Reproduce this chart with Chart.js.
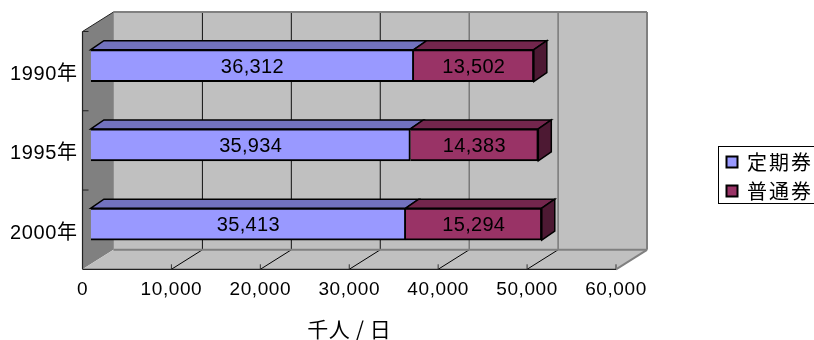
<!DOCTYPE html>
<html>
<head>
<meta charset="utf-8">
<style>
html,body{margin:0;padding:0;background:#fff}
#wrap{position:relative;width:814px;height:340px;overflow:hidden}
canvas{display:block}
</style>
<script src="https://cdn.jsdelivr.net/npm/chart.js@4"></script>
</head>
<body>
<div id="wrap"><canvas id="c" width="814" height="340"></canvas></div>
<script>
const categories = ['1990年', '1995年', '2000年'];
const teikiken = [36312, 35934, 35413];
const futsuken = [13502, 14383, 15294];
const xTicks = [0, 10000, 20000, 30000, 40000, 50000, 60000];

const LATIN = '"Liberation Sans","Noto Sans CJK JP",sans-serif';
const CJK = '"Noto Sans CJK JP","Liberation Sans",sans-serif';

// Box depth of the plot and of the bars, in pixels
const WALL = {dx: 31, dy: -19.5};
const BAR_SHIFT = {dx: 8.4, dy: -5.5};
const BAR_DEPTH = {dx: 13, dy: -9};

const fmt = v => v.toLocaleString('en-US');

function poly(ctx, pts, fill, stroke, lw) {
  ctx.beginPath();
  pts.forEach((p, i) => i ? ctx.lineTo(p[0], p[1]) : ctx.moveTo(p[0], p[1]));
  ctx.closePath();
  if (fill) { ctx.fillStyle = fill; ctx.fill(); }
  if (stroke) { ctx.strokeStyle = stroke; ctx.lineWidth = lw; ctx.stroke(); }
}
function seg(ctx, x1, y1, x2, y2, color, lw) {
  ctx.beginPath();
  ctx.moveTo(x1, y1);
  ctx.lineTo(x2, y2);
  ctx.strokeStyle = color;
  ctx.lineWidth = lw;
  ctx.stroke();
}

// Back wall, side wall, floor, gridlines and axis ticks
const plotBox = {
  id: 'plotBox',
  beforeDraw(chart) {
    // Axis text is set slightly wide
    chart.ctx.letterSpacing = '0.6px';
  },
  beforeDatasetsDraw(chart) {
    const {ctx, chartArea: a, scales: {x, y}} = chart;
    const {dx, dy} = WALL;
    ctx.save();
    poly(ctx, [[a.left + dx, a.top + dy], [a.right + dx, a.top + dy], [a.right + dx, a.bottom + dy], [a.left + dx, a.bottom + dy]], '#c0c0c0');
    poly(ctx, [[a.left, a.top], [a.left + dx, a.top + dy], [a.left + dx, a.bottom + dy], [a.left, a.bottom]], '#808080');
    poly(ctx, [[a.left, a.bottom], [a.right, a.bottom], [a.right + dx, a.bottom + dy], [a.left + dx, a.bottom + dy]], '#c0c0c0');

    xTicks.slice(1, -1).forEach(v => {
      const px = x.getPixelForValue(v);
      const color = v >= 40000 ? '#555' : '#111';
      seg(ctx, px + dx, a.top + dy, px + dx, a.bottom + dy, color, 1);
      seg(ctx, px, a.bottom, px + dx, a.bottom + dy, '#000', 1);
    });
    xTicks.slice(1).forEach(v => {
      const px = x.getPixelForValue(v);
      seg(ctx, px, a.bottom - 5, px, a.bottom, '#333', 1);
    });

    seg(ctx, a.left + dx, a.top + dy, a.right + dx, a.top + dy, '#808080', 2);
    seg(ctx, a.right + dx, a.top + dy, a.right + dx, a.bottom + dy, '#808080', 2);
    seg(ctx, a.left + dx, a.bottom + dy, a.right + dx, a.bottom + dy, '#808080', 2);
    seg(ctx, a.right, a.bottom, a.right + dx, a.bottom + dy, '#808080', 2);
    seg(ctx, a.left + dx, a.top + dy, a.left + dx, a.bottom + dy, '#909090', 1);

    seg(ctx, a.left, a.top, a.left + dx, a.top + dy, '#222', 1);
    seg(ctx, a.left, a.top, a.left, a.bottom, '#222', 1.2);
    seg(ctx, a.left, a.bottom, a.right, a.bottom, '#222', 1.2);
    const step = (y.getPixelForValue(1) - y.getPixelForValue(0)) / 2;
    [a.top, y.getPixelForValue(0) + step, y.getPixelForValue(1) + step].forEach(py => {
      seg(ctx, a.left, py, a.left + 6, py, '#222', 1);
    });
    ctx.restore();

    // Bars sit a little behind the front edge of the floor
    ctx.save();
    ctx.translate(BAR_SHIFT.dx, BAR_SHIFT.dy);
    const shades = [{top: '#7272bf'}, {top: '#73264d', side: '#4d1933'}];
    const {dx: bx, dy: by} = BAR_DEPTH;
    chart.data.datasets.forEach((ds, i) => {
      chart.getDatasetMeta(i).data.forEach(bar => {
        const h = bar.height / 2;
        const l = bar.base, r = bar.x, t = bar.y - h, b = bar.y + h;
        poly(ctx, [[l, t], [l + bx, t + by], [r + bx, t + by], [r, t]], shades[i].top, '#000', 1.5);
        if (shades[i].side) {
          poly(ctx, [[r, t], [r + bx, t + by], [r + bx, b + by], [r, b]], shades[i].side, '#000', 1.5);
        }
      });
    });
  },
  afterDatasetsDraw(chart) {
    const {ctx} = chart;
    ctx.font = '20px ' + LATIN;
    ctx.letterSpacing = '0.3px';
    ctx.fillStyle = '#000';
    ctx.textAlign = 'center';
    ctx.textBaseline = 'middle';
    chart.data.datasets.forEach((ds, i) => {
      chart.getDatasetMeta(i).data.forEach((bar, j) => {
        ctx.fillText(fmt(ds.data[j]), (bar.base + bar.x) / 2, bar.y + 1.5);
      });
    });
    ctx.restore();
  }
};

// Boxed legend on the right, running off the edge of the page
const boxedLegend = {
  id: 'boxedLegend',
  afterDraw(chart) {
    const {ctx} = chart;
    ctx.save();
    ctx.letterSpacing = '0px';
    ctx.strokeStyle = '#000';
    ctx.lineWidth = 1;
    ctx.strokeRect(718.5, 146.5, 110, 57);
    ctx.font = '20px ' + CJK;
    ctx.textBaseline = 'middle';
    ctx.textAlign = 'left';
    chart.data.datasets.forEach((ds, i) => {
      const cy = 162 + i * 29;
      ctx.fillStyle = ds.backgroundColor;
      ctx.fillRect(726.5, cy - 5.5, 11, 11);
      ctx.strokeStyle = '#000';
      ctx.lineWidth = 2;
      ctx.strokeRect(726.5, cy - 5.5, 11, 11);
      ctx.fillStyle = '#000';
      ctx.letterSpacing = '2px';
      ctx.fillText(ds.label, 747, cy + 0.5);
      ctx.letterSpacing = '0px';
    });
    ctx.restore();
  }
};

new Chart(document.getElementById('c'), {
  type: 'bar',
  data: {
    labels: categories,
    datasets: [
      {label: '定期券', data: teikiken, backgroundColor: '#9999ff', borderColor: '#000', borderWidth: 2, barThickness: 32, clip: false},
      {label: '普通券', data: futsuken, backgroundColor: '#993366', borderColor: '#000', borderWidth: 2, barThickness: 32, clip: false}
    ]
  },
  options: {
    indexAxis: 'y',
    responsive: false,
    animation: false,
    layout: {padding: {left: 0, right: 198, top: 31.5, bottom: 0}},
    plugins: {legend: {display: false}, tooltip: {enabled: false}},
    scales: {
      x: {
        stacked: true,
        min: 0,
        max: 60000,
        afterFit(s) { s.height = 70.7; },
        afterBuildTicks(s) { s.ticks = xTicks.map(v => ({value: v})); },
        grid: {display: false, tickLength: 0},
        border: {display: false},
        ticks: {
          color: '#000',
          font: {family: LATIN, size: 19},
          padding: 9,
          maxRotation: 0,
          autoSkip: false,
          callback: v => fmt(v)
        },
        title: {
          display: true,
          text: '千人 / 日',
          color: '#000',
          font: {family: CJK, size: 21},
          padding: {top: 0, bottom: -2}
        }
      },
      y: {
        stacked: true,
        afterFit(s) { s.width = 82.5; },
        grid: {display: false, tickLength: 0},
        border: {display: false},
        ticks: {
          color: '#000',
          font: {family: LATIN, size: 20},
          padding: 5,
          labelOffset: 3.5
        }
      }
    }
  },
  plugins: [plotBox, boxedLegend]
});
</script>
</body>
</html>
